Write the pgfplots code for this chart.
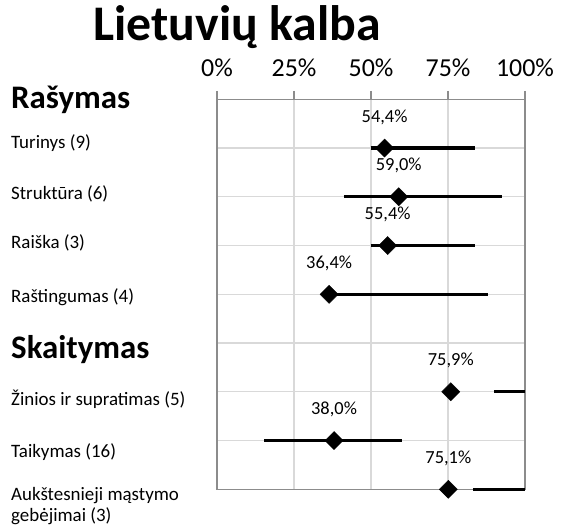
\documentclass[border=0pt]{standalone}
\usepackage{fontspec}
\setmainfont{Carlito}
\usepackage{pgfplots}
\pgfplotsset{compat=1.18}
\definecolor{framegray}{HTML}{8C8C8C}
\definecolor{gridgray}{HTML}{D9D9D9}
\begin{document}
\begin{tikzpicture}[x=1bp,y=1bp]
\begin{axis}[
 at={(217bp,39.7bp)}, anchor=south west,
 scale only axis, width=308bp, height=390bp,
 xmin=0, xmax=100, ymin=0, ymax=8,
 axis line style={framegray, line width=1.3bp},
 xtick={0,25,50,75,100},
 xticklabels={0\%,25\%,50\%,75\%,100\%},
 xticklabel pos=upper,
 xtick pos=upper,
 xtick align=outside,
 major tick length=8.5bp,
 xtick style={framegray, line width=1.3bp},
 ytick={1,2,3,4,5,6,7},
 yticklabels={},
 ytick style={draw=none},
 xmajorgrids, ymajorgrids,
 major grid style={gridgray, line width=1.3bp},
 xticklabel style={font=\fontsize{26}{30}\selectfont, yshift=11bp},
 clip=false,
 /pgf/number format/assume math mode=true,
]
\addplot[black, line width=3.3bp] coordinates {(49.9,7) (83.8,7)};
\addplot[black, line width=3.3bp] coordinates {(41.2,6) (92.4,6)};
\addplot[black, line width=3.3bp] coordinates {(49.9,5) (83.8,5)};
\addplot[black, line width=3.3bp] coordinates {(35.0,4) (88.1,4)};
\addplot[black, line width=3.3bp] coordinates {(89.9,2) (100,2)};
\addplot[black, line width=3.3bp] coordinates {(15.4,1) (60.0,1)};
\addplot[black, line width=3.3bp] coordinates {(83.2,0) (100,0)};
\addplot[only marks, mark=square*, mark size=6.4bp,
  mark options={rotate=45, fill=black, draw=black},
  point meta=x,
  nodes near coords={\pgfmathprintnumber[fixed,fixed zerofill,precision=1,use comma]{\pgfplotspointmeta}\%},
  nodes near coords style={font=\fontsize{18.5}{22}\selectfont, anchor=center, yshift=31bp}]
  coordinates {(54.4,7) (59.0,6) (55.4,5) (36.4,4) (75.9,2) (38.0,1) (75.1,0)};
\end{axis}
\node[anchor=base, font=\bfseries\fontsize{50}{60}\selectfont, inner sep=0pt] at (237,488) {Lietuvių kalba};
\node[anchor=west, font=\bfseries\fontsize{33}{40}\selectfont, inner sep=0pt] at (11,429) {Rašymas};
\node[anchor=west, font=\bfseries\fontsize{33}{40}\selectfont, inner sep=0pt] at (11,179) {Skaitymas};
\begin{scope}[every node/.style={anchor=west, font=\fontsize{19}{23}\selectfont, inner sep=0pt}]
\node at (11,386) {Turinys (9)};
\node at (11,335) {Struktūra (6)};
\node at (11,286) {Raiška (3)};
\node at (11,232) {Raštingumas (4)};
\node at (11,130) {Žinios ir supratimas (5)};
\node at (11,77) {Taikymas (16)};
\node[align=left, font=\fontsize{19}{21}\selectfont] at (11,23) {Aukštesnieji mąstymo\\gebėjimai (3)};
\end{scope}
\pgfresetboundingbox
\path (0,0) rectangle (561,529);
\end{tikzpicture}
\end{document}
